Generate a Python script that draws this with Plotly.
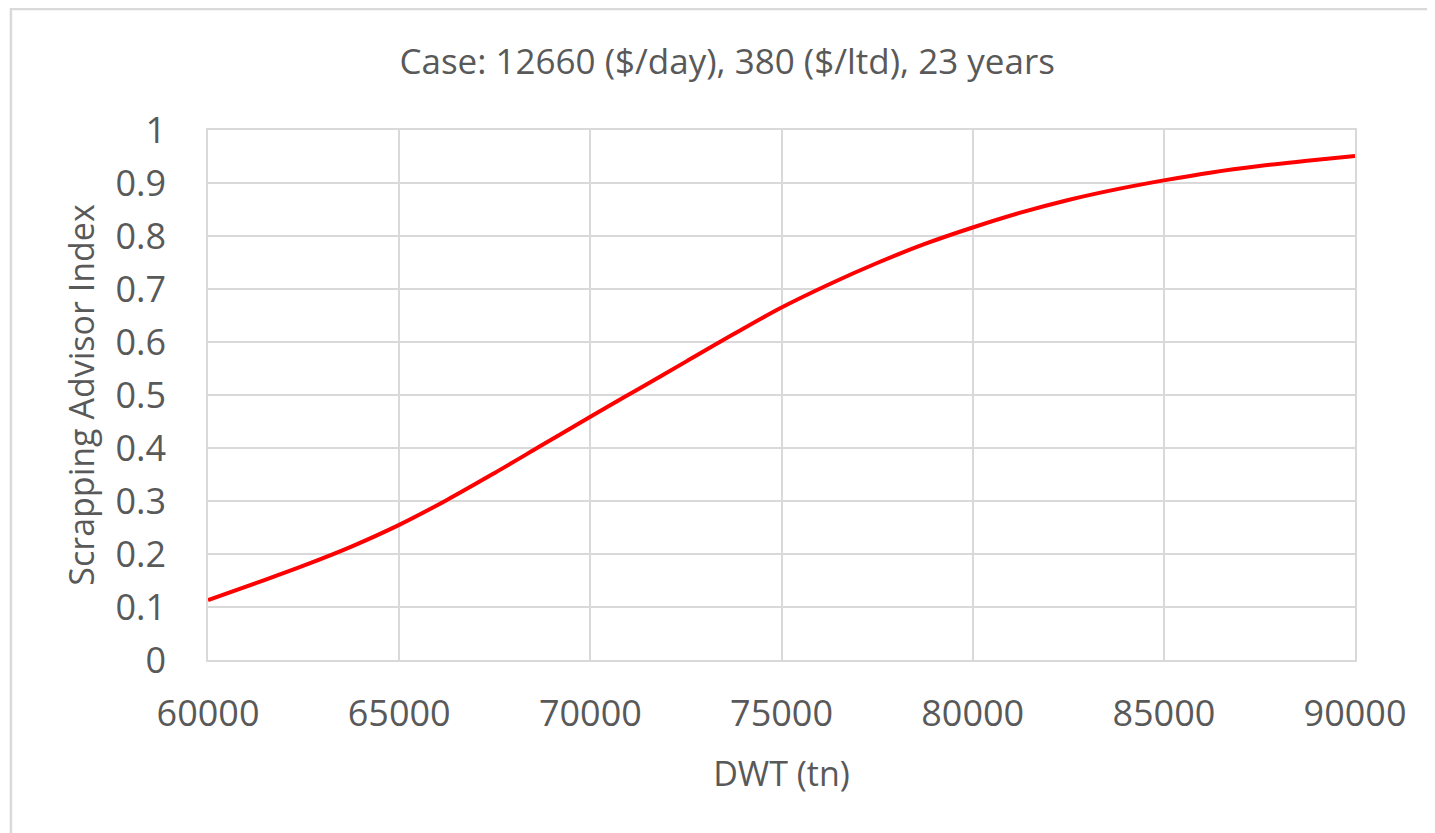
import plotly.graph_objects as go

# values
dwt = [60000, 61250, 62500, 63750, 65000, 66250, 67500, 68750, 70000, 71250, 72500,
	73750, 75000, 76250, 77500, 78750, 80000, 81250, 82500, 83750, 85000, 86250,
	87500, 88750, 90000]
index = [0.113, 0.145, 0.178, 0.214, 0.255, 0.302, 0.353, 0.406, 0.459, 0.511, 0.563,
	0.615, 0.665, 0.709, 0.749, 0.785, 0.816, 0.844, 0.868, 0.888, 0.905, 0.920,
	0.932, 0.942, 0.951]

chart_title = "Case: 12660 ($/day), 380 ($/ltd), 23 years"
x_title = "DWT (tn)"
y_title = "Scrapping Advisor Index"

grey_text = "#595959"
grid = "#d9d9d9"
font = "Open Sans"

fig = go.Figure()
fig.add_trace(go.Scatter(
	x=dwt,
	y=index,
	mode="lines",
	line=dict(color="#ff0000", width=4, shape="spline", smoothing=1.0),
	showlegend=False,
	hoverinfo="x+y",
	))

# outer chart frame (Excel style), cut off at right/bottom like the image
fig.add_shape(
	type="rect", xref="paper", yref="paper",
	x0=-0.1718, x1=1.10, y0=-0.40, y1=1.2283,
	line=dict(color=grid, width=2.5), fillcolor="rgba(0,0,0,0)", layer="below",
	)

fig.update_layout(
	width=1427,
	height=825,
	margin=dict(l=200, r=80, t=122, b=173),
	paper_bgcolor="white",
	plot_bgcolor="white",
	font=dict(family=font, color=grey_text),
	title=dict(
		text=chart_title,
		x=0.504, xref="container", xanchor="center",
		y=1 - 54/825, yref="container", yanchor="middle",
		font=dict(size=35, color=grey_text, family=font),
		),
	)

fig.update_xaxes(
	range=[60000, 90000],
	tickvals=[60000, 65000, 70000, 75000, 80000, 85000, 90000],
	ticktext=["60000", "65000", "70000", "75000", "80000", "85000", "90000"],
	showgrid=True, gridcolor=grid, gridwidth=1.5,
	showline=True, mirror=True, linecolor=grid, linewidth=1.5,
	zeroline=False,
	ticks="", ticklabelstandoff=21,
	tickfont=dict(size=36, color=grey_text, family=font),
	title=dict(text=x_title, font=dict(size=34, color=grey_text, family=font), standoff=26),
	)

fig.update_yaxes(
	range=[0, 1],
	tickvals=[0, 0.1, 0.2, 0.3, 0.4, 0.5, 0.6, 0.7, 0.8, 0.9, 1],
	ticktext=["0", "0.1", "0.2", "0.3", "0.4", "0.5", "0.6", "0.7", "0.8", "0.9", "1"],
	showgrid=True, gridcolor=grid, gridwidth=1.5,
	showline=True, mirror=True, linecolor=grid, linewidth=1.5,
	zeroline=False,
	ticks="", ticklabelstandoff=33,
	tickfont=dict(size=36, color=grey_text, family=font),
	title=dict(text=y_title, font=dict(size=34, color=grey_text, family=font), standoff=11),
	)

fig.write_html("out.html")
